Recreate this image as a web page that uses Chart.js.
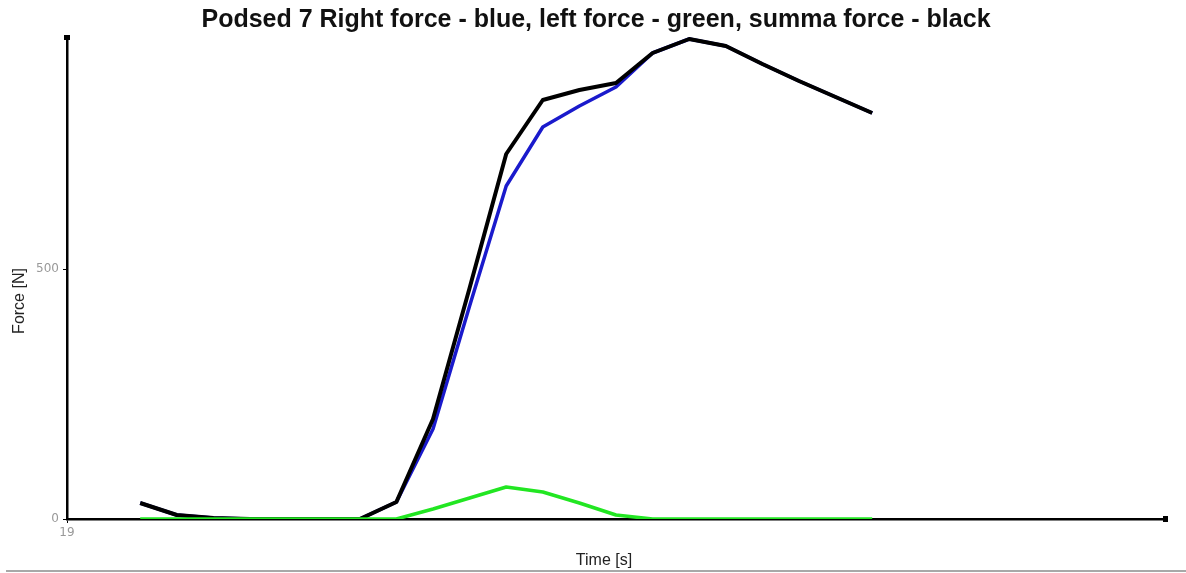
<!DOCTYPE html>
<html>
<head>
<meta charset="utf-8">
<script src="https://cdn.jsdelivr.net/npm/chart.js@4.4.1/dist/chart.umd.min.js"></script>
<style>
  html, body { margin: 0; padding: 0; background: #fff; }
  #wrap { width: 1186px; height: 573px; position: relative; }
</style>
</head>
<body>
<div id="wrap"><canvas id="c" width="1186" height="573"></canvas></div>
<script>
// Sample times [s]
const times = [19.2, 19.3, 19.4, 19.5, 19.6, 19.7, 19.8, 19.9, 20.0, 20.1, 20.2,
               20.3, 20.4, 20.5, 20.6, 20.7, 20.8, 20.9, 21.0, 21.1, 21.2];
// Right force [N]
const rightForce = [32, 8, 2, 0, 0, 0, 0, 34, 180, 426, 666, 784, 826, 864, 932, 960, 946, 910, 876, 844, 812];
// Left force [N]
const leftForce = [0, 0, 0, 0, 0, 0, 0, 0, 20, 42, 64, 54, 32, 8, 0, 0, 0, 0, 0, 0, 0];
// Summa force [N]
const sumForce = [32, 8, 2, 0, 0, 0, 0, 34, 200, 462, 730, 838, 858, 872, 932, 960, 946, 910, 876, 844, 812];

const xTicks = [19];
const yTicks = [0, 500];
const xRange = [19, 22];
const yRange = [0, 964];

const titleText = 'Podsed 7 Right force - blue, left force - green, summa force - black';
const xTitle = 'Time [s]';
const yTitle = 'Force [N]';

function series(values) {
  return times.map((t, i) => ({ x: t, y: values[i] }));
}

// Heading, axis titles, end caps of the axes and the bottom rule
const decor = {
  id: 'decor',
  afterDraw(chart) {
    const { ctx, chartArea: a } = chart;
    ctx.save();
    ctx.fillStyle = '#000';
    ctx.fillRect(a.left - 3, a.top - 2, 6, 5);
    ctx.fillRect(a.right - 2, a.bottom - 3, 5, 6);

    ctx.fillStyle = '#111';
    ctx.font = 'bold 25px "Liberation Sans", Arial, sans-serif';
    ctx.textAlign = 'center';
    ctx.textBaseline = 'alphabetic';
    ctx.fillText(titleText, 596, 27);

    ctx.fillStyle = '#222';
    ctx.font = '16px "Liberation Sans", Arial, sans-serif';
    ctx.textBaseline = 'middle';
    ctx.fillText(xTitle, 604, 561);
    ctx.translate(20, 301);
    ctx.rotate(-Math.PI / 2);
    ctx.fillText(yTitle, 0, 0);
    ctx.restore();

    ctx.save();
    ctx.strokeStyle = '#a8a8a8';
    ctx.lineWidth = 2;
    ctx.beginPath();
    ctx.moveTo(6, 571);
    ctx.lineTo(1186, 571);
    ctx.stroke();
    ctx.restore();
  }
};

new Chart(document.getElementById('c'), {
  type: 'line',
  data: {
    // first dataset is painted on top
    datasets: [
      { label: 'left', data: series(leftForce), borderColor: '#22e622', borderWidth: 3.5 },
      { label: 'summa', data: series(sumForce), borderColor: '#000000', borderWidth: 4 },
      { label: 'right', data: series(rightForce), borderColor: '#1a1acc', borderWidth: 3.5 }
    ]
  },
  options: {
    responsive: false,
    animation: false,
    events: [],
    elements: {
      point: { radius: 0 },
      line: { tension: 0, borderJoinStyle: 'round', borderCapStyle: 'butt' }
    },
    layout: { padding: { left: 0, right: 21, top: 37, bottom: 0 } },
    plugins: {
      legend: { display: false },
      tooltip: { enabled: false },
      title: { display: false }
    },
    scales: {
      x: {
        type: 'linear',
        min: xRange[0],
        max: xRange[1],
        afterFit(s) { s.height = 54; },
        afterBuildTicks(s) { s.ticks = xTicks.map(v => ({ value: v })); },
        grid: { display: true, drawOnChartArea: false, drawTicks: true, tickLength: 4, color: '#000', lineWidth: 1 },
        border: { display: true, color: '#000', width: 2.5 },
        ticks: {
          color: '#999',
          font: { family: '"DejaVu Sans", sans-serif', size: 12 },
          padding: 3,
          maxRotation: 0,
          autoSkip: false
        }
      },
      y: {
        type: 'linear',
        min: yRange[0],
        max: yRange[1],
        afterFit(s) { s.width = 67; },
        afterBuildTicks(s) { s.ticks = yTicks.map(v => ({ value: v })); },
        grid: { display: true, drawOnChartArea: false, drawTicks: true, tickLength: 4, color: '#000', lineWidth: 1 },
        border: { display: true, color: '#000', width: 2.5 },
        ticks: {
          color: '#999',
          font: { family: '"DejaVu Sans", sans-serif', size: 12 },
          padding: 4,
          autoSkip: false
        }
      }
    }
  },
  plugins: [decor]
});
</script>
</body>
</html>
